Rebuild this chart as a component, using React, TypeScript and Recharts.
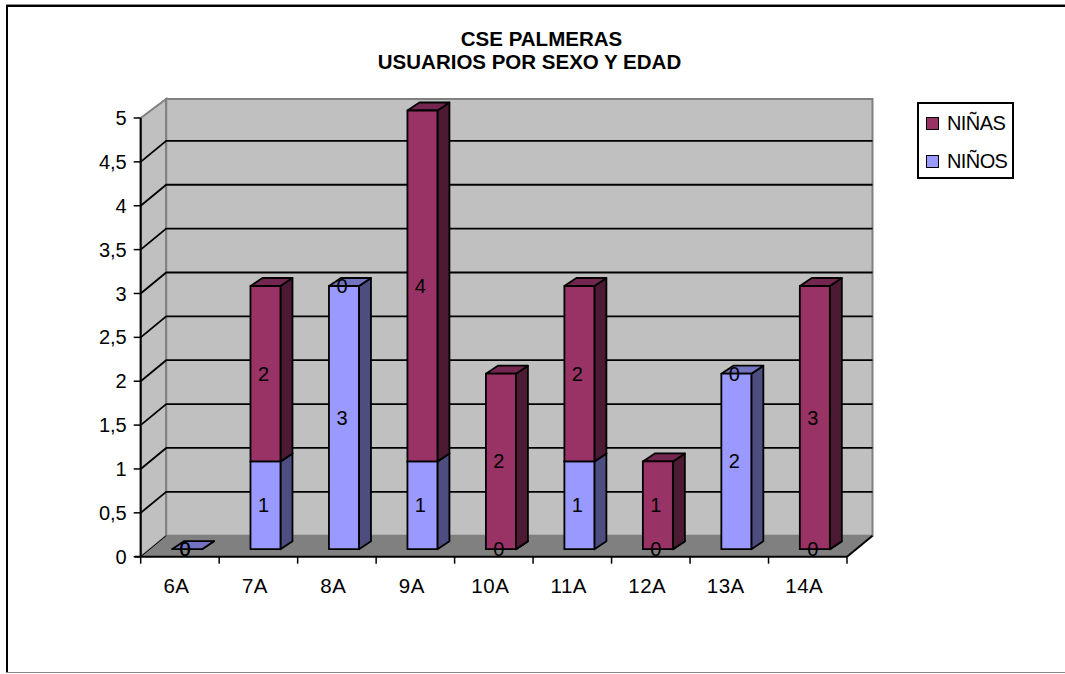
import { Bar, BarChart, CartesianGrid, LabelList, Legend, XAxis, YAxis, usePlotArea } from 'recharts';

const categories = ['6A', '7A', '8A', '9A', '10A', '11A', '12A', '13A', '14A'];
const ninos = [0, 1, 3, 1, 0, 1, 0, 2, 0];
const ninas = [0, 2, 0, 4, 2, 2, 1, 0, 3];
const yTicks = [0, 0.5, 1, 1.5, 2, 2.5, 3, 3.5, 4, 4.5, 5];

const data = categories.map((name, i) => ({ name, ninos: ninos[i], ninas: ninas[i] }));

const FONT = '"Liberation Sans", Arial, sans-serif';
// depth of the fake 3d box and of the bars inside it
const WALL_DX = 25.5;
const WALL_DY = 21;
const BAR_DX = 12;
const BAR_DY = 8;
const BAR_SHIFT_X = 7.3;
const BAR_SHIFT_Y = 7.5;

function Walls() {
  const plot = usePlotArea();
  if (!plot) return null;
  const { x, y, width, height } = plot;
  const b = y + height;
  const r = x + width;
  return (
    <g>
      <polygon
        points={`${x},${y} ${x + WALL_DX},${y - WALL_DY + 2} ${x + WALL_DX},${b - WALL_DY} ${x},${b}`}
        fill="#c0c0c0"
        stroke="#808080"
        strokeWidth={2}
      />
      <rect x={x + WALL_DX} y={y - WALL_DY + 2} width={width} height={height - 2} fill="#c0c0c0" stroke="#808080" strokeWidth={2} />
      <polygon points={`${x},${b} ${x + WALL_DX},${b - WALL_DY} ${r + WALL_DX},${b - WALL_DY} ${r},${b}`} fill="#808080" />
      <line x1={x} y1={b} x2={x + WALL_DX} y2={b - WALL_DY} stroke="#000" strokeWidth={1} />
      <line x1={r} y1={b} x2={r + WALL_DX} y2={b - WALL_DY} stroke="#000" strokeWidth={2} />
      <line x1={x} y1={y} x2={x} y2={b} stroke="#000" strokeWidth={2} />
      <line x1={x - 6} y1={b} x2={r} y2={b} stroke="#000" strokeWidth={2} />
    </g>
  );
}

function GridLine(props: any) {
  const { x1, x2, y1, index } = props;
  if (index === 0 || index === yTicks.length - 1) return <g />;
  return (
    <polyline
      points={`${x1},${y1} ${x1 + WALL_DX},${y1 - WALL_DY} ${x2 + WALL_DX},${y1 - WALL_DY}`}
      fill="none"
      stroke="#000"
      strokeWidth={1.8}
    />
  );
}

function Bar3D(props: any) {
  const { x, y, width, height, fill, top, side, skipEmpty } = props;
  if (skipEmpty && !height) return <g />;
  const l = x + BAR_SHIFT_X;
  const t = y - BAR_SHIFT_Y;
  const r = l + width;
  const b = t + height;
  return (
    <g stroke="#000" strokeWidth={1.8} strokeLinejoin="round">
      <polygon points={`${r},${t} ${r + BAR_DX},${t - BAR_DY} ${r + BAR_DX},${b - BAR_DY} ${r},${b}`} fill={side} />
      <polygon points={`${l},${t} ${l + BAR_DX},${t - BAR_DY} ${r + BAR_DX},${t - BAR_DY} ${r},${t}`} fill={top} />
      <rect x={l} y={t} width={width} height={height} fill={fill} />
    </g>
  );
}

function BarValue(props: any) {
  const { x, y, width, height, value } = props;
  return (
    <text
      x={x + BAR_SHIFT_X + width / 2 - 2}
      y={y - BAR_SHIFT_Y + height / 2 + 7}
      textAnchor="middle"
      fontFamily={FONT}
      fontSize={20}
      fill="#000"
    >
      {value}
    </text>
  );
}

function CategoryTick(props: any) {
  const { x, y, payload, index } = props;
  const half = payload.offset ?? 39.2;
  return (
    <g>
      <line x1={x - half} y1={y - 8} x2={x - half} y2={y - 1} stroke="#000" strokeWidth={1.5} />
      {index === categories.length - 1 && (
        <line x1={x + half} y1={y - 8} x2={x + half} y2={y - 1} stroke="#000" strokeWidth={1.5} />
      )}
      <text x={x - 3.5} y={y + 28} textAnchor="middle" fontFamily={FONT} fontSize={20.5} letterSpacing={0.5} fill="#000">
        {payload.value}
      </text>
    </g>
  );
}

function LegendBox(props: any) {
  const items = [...(props.payload ?? [])].reverse();
  return (
    <div
      style={{
        boxSizing: 'border-box',
        width: 97,
        height: 77,
        border: '2px solid #000',
        background: '#fff',
        padding: '3px 0 0 7px',
        fontFamily: FONT,
        fontSize: 20,
        color: '#000',
      }}
    >
      {items.map((it: any) => (
        <div key={it.value} style={{ display: 'flex', alignItems: 'center', height: 32, marginBottom: 6 }}>
          <span style={{ boxSizing: 'border-box', width: 13, height: 13, border: '1.5px solid #000', background: it.color, marginRight: 8 }} />
          <span style={{ letterSpacing: -0.6 }}>{it.value}</span>
        </div>
      ))}
    </div>
  );
}

export default function App() {
  return (
    <div style={{ position: 'absolute', left: 0, top: 0, width: 1065, height: 674, background: '#fff' }}>
      <div style={{ position: 'absolute', left: 6, top: 4, width: 1059, height: 1, background: '#888' }} />
      <div style={{ position: 'absolute', left: 6, top: 5, width: 1059, height: 2, background: '#000' }} />
      <div style={{ position: 'absolute', left: 6, top: 5, width: 2, height: 668, background: '#000' }} />
      <div style={{ position: 'absolute', left: 6, top: 672, width: 1059, height: 1, background: '#888' }} />
      <BarChart
        width={1065}
        height={674}
        data={data}
        barSize={30}
        style={{ position: 'absolute', left: 0, top: 0 }}
        margin={{ top: 118, right: 218, bottom: 77.3, left: 80.7 }}
      >
        <Walls />
        <CartesianGrid vertical={false} horizontal={GridLine as any} zIndex={100} />
        <text x={541.5} y={46} textAnchor="middle" fontFamily={FONT} fontSize={20.5} fontWeight="bold">
          CSE PALMERAS
        </text>
        <text x={529.5} y={69} textAnchor="middle" fontFamily={FONT} fontSize={20.5} fontWeight="bold">
          USUARIOS POR SEXO Y EDAD
        </text>
        <XAxis dataKey="name" height={40} axisLine={false} tickLine={false} tick={<CategoryTick />} interval={0} />
        <YAxis
          width={60}
          domain={[0, 5]}
          ticks={yTicks}
          axisLine={false}
          tickSize={7}
          tickMargin={7}
          tickFormatter={(v: number) => String(v).replace('.', ',')}
          tick={{ fill: '#000', fontSize: 20, fontFamily: FONT }}
          tickLine={{ stroke: '#000', strokeWidth: 1.5 }}
        />
        <Legend
          layout="horizontal"
          verticalAlign="middle"
          align="center"
          itemSorter={null}
          wrapperStyle={{ left: 917, top: 102, width: 97, right: 'auto', bottom: 'auto' }}
          content={<LegendBox />}
        />
        <Bar
          dataKey="ninos"
          name="NIÑOS"
          stackId="a"
          fill="#9999ff"
          isAnimationActive={false}
          shape={<Bar3D top="#7373bf" side="#4d4d80" />}
        >
          <LabelList dataKey="ninos" content={<BarValue />} />
        </Bar>
        <Bar
          dataKey="ninas"
          name="NIÑAS"
          stackId="a"
          fill="#993366"
          isAnimationActive={false}
          shape={<Bar3D top="#732650" side="#4d1a33" skipEmpty />}
        >
          <LabelList dataKey="ninas" content={<BarValue />} />
        </Bar>
      </BarChart>
    </div>
  );
}
